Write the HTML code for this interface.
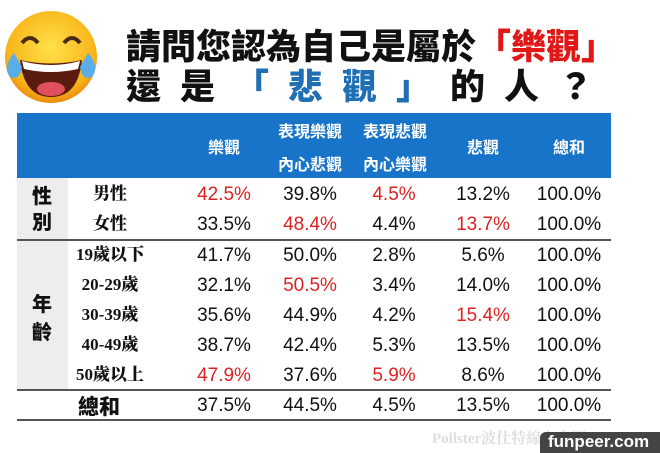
<!DOCTYPE html>
<html><head><meta charset="utf-8"><style>
body{margin:0;width:660px;height:453px;background:#fff;position:relative;overflow:hidden;font-family:"Liberation Sans","Noto Sans CJK TC",sans-serif}
.a{position:absolute;white-space:nowrap}
.t{font-weight:900;font-size:35px;line-height:40px;color:#111;font-family:"Noto Sans CJK TC",sans-serif}
.h{color:#fff;font-weight:bold;font-size:16px;line-height:20px;text-align:center;font-family:"Noto Sans CJK TC",sans-serif}
.d{font-size:19px;line-height:24px;color:#111;text-align:center;width:80px}
.r{color:#d22}
.l{font-family:"Liberation Serif","Noto Serif CJK SC",serif;font-weight:900;font-size:17px;line-height:22px;color:#111;text-align:center;width:100px}
.g{font-family:"Noto Sans CJK TC",sans-serif;font-weight:900;font-size:20px;color:#111}
</style></head><body>
<svg class="a" style="left:0;top:5px" width="100" height="105" viewBox="0 0 100 105">
<defs><radialGradient id="f" cx="50%" cy="40%" r="60%"><stop offset="0" stop-color="#ffe14a"/><stop offset="0.8" stop-color="#f8b418"/><stop offset="1" stop-color="#e98a10"/></radialGradient></defs>
<circle cx="51" cy="52" r="46" fill="url(#f)"/>
<path d="M22 38 q8 -10 16 0" stroke="#4a2a10" stroke-width="4" fill="none"/>
<path d="M64 38 q8 -10 16 0" stroke="#4a2a10" stroke-width="4" fill="none"/>
<path d="M20 55 Q51 62 82 55 Q78 92 51 92 Q24 92 20 55Z" fill="#5a1c10"/>
<path d="M22 56 Q51 64 80 56 L78 64 Q51 70 24 64Z" fill="#fff"/>
<ellipse cx="51" cy="84" rx="14" ry="7" fill="#e0505a"/>
<path d="M14 48 q-12 14 -4 24 q10 4 12 -10z" fill="#5aaee8"/>
<path d="M88 48 q12 14 4 24 q-10 4 -12 -10z" fill="#5aaee8"/>
</svg>
<div class="a t" style="left:126px;top:25px">請問您認為自己是屬於<span style="color:#e01818">「樂觀」</span></div>
<div class="a t" style="left:126px;top:65px;letter-spacing:19px">還是<span style="color:#1f6fb5">「悲觀」</span>的人？</div>
<div class="a" style="left:17px;top:113px;width:594px;height:65px;background:#1874c8"></div>
<div class="a h" style="left:184px;top:136px;width:80px">樂觀</div>
<div class="a h" style="left:265px;top:120px;width:90px">表現樂觀</div>
<div class="a h" style="left:265px;top:153px;width:90px">內心悲觀</div>
<div class="a h" style="left:350px;top:120px;width:90px">表現悲觀</div>
<div class="a h" style="left:350px;top:153px;width:90px">內心樂觀</div>
<div class="a h" style="left:443px;top:136px;width:80px">悲觀</div>
<div class="a h" style="left:529px;top:136px;width:80px">總和</div>
<div class="a" style="left:17px;top:178px;width:51px;height:212px;background:#ededed"></div>
<div class="a g" style="left:32px;top:182px;line-height:26px">性<br>別</div>
<div class="a g" style="left:32px;top:289px;line-height:28px">年<br>齡</div>
<div class="a" style="left:17px;top:239px;width:594px;height:2px;background:#555"></div>
<div class="a" style="left:17px;top:389px;width:594px;height:2px;background:#555"></div>
<div class="a" style="left:17px;top:419px;width:594px;height:2px;background:#555"></div>
<div id="rows"></div>
<div class="a" style="left:432px;top:427px;font-family:'Liberation Serif','Noto Serif CJK SC',serif;font-weight:bold;font-size:15px;color:#ddd">Pollster波仕特線上市調</div>
<div class="a" style="left:540px;top:432px;width:120px;height:21px;background:#444;border-radius:6px 0 0 0"></div>
<div class="a" style="left:548px;top:432px;font-weight:bold;font-size:17px;color:#fff">funpeer.com</div>
<script>
var R=[["男性",195,["42.5%",1],["39.8%"],["4.5%",1],["13.2%"]],
["女性",225,["33.5%"],["48.4%",1],["4.4%"],["13.7%",1]],
["19歲以下",256,["41.7%"],["50.0%"],["2.8%"],["5.6%"]],
["20-29歲",286,["32.1%"],["50.5%",1],["3.4%"],["14.0%"]],
["30-39歲",316,["35.6%"],["44.9%"],["4.2%"],["15.4%",1]],
["40-49歲",346,["38.7%"],["42.4%"],["5.3%"],["13.5%"]],
["50歲以上",376,["47.9%",1],["37.6%"],["5.9%",1],["8.6%"]],
["總和",406,["37.5%"],["44.5%"],["4.5%"],["13.5%"]]];
var X=[184,270,354,443,529],h="";
R.forEach(function(r,i){
var y=r[1];
if(i==7)h+='<div class="a g" style="left:78px;top:'+(y-15)+'px;font-size:21px;line-height:30px">總和</div>';
else h+='<div class="a l" style="left:60px;top:'+(y-12)+'px">'+r[0]+'</div>';
for(var j=0;j<5;j++){var c=j<4?r[2+j]:["100.0%"];
h+='<div class="a d'+(c[1]?' r':'')+'" style="left:'+X[j]+'px;top:'+(y-12)+'px">'+c[0]+'</div>';}
});
document.getElementById("rows").innerHTML=h;
</script>
</body></html>
